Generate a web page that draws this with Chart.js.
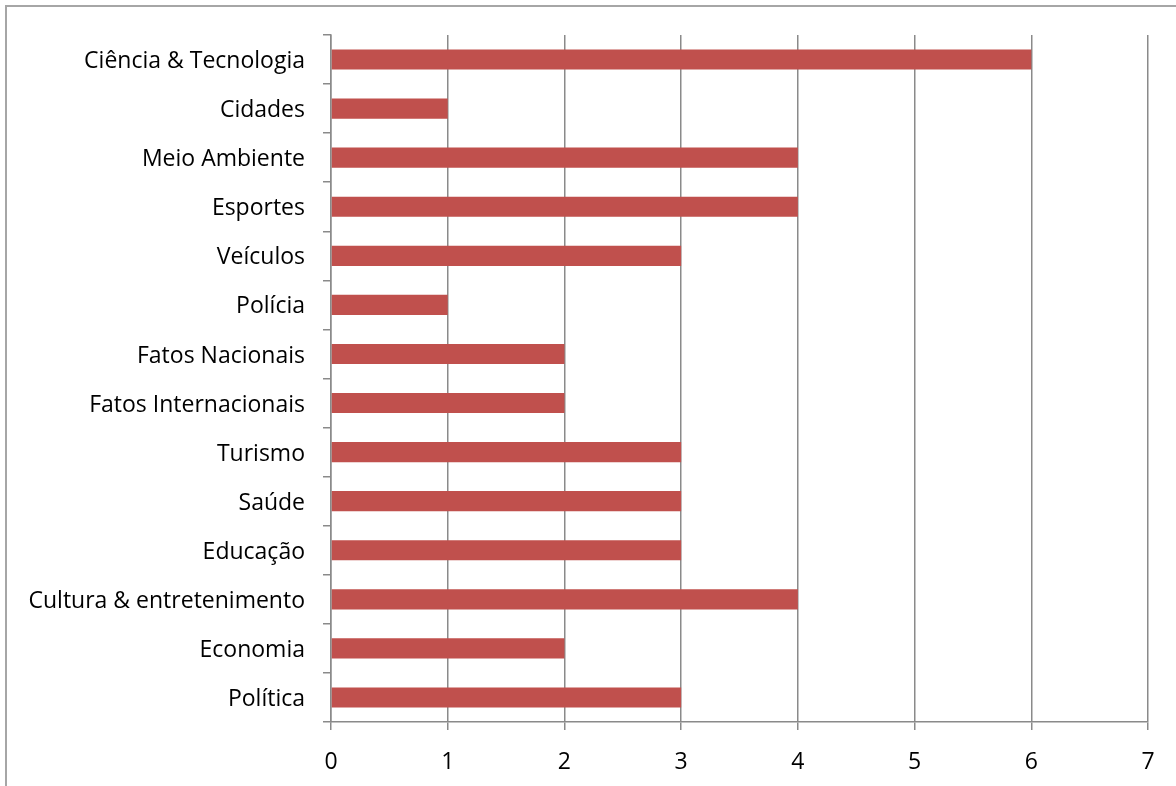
<!DOCTYPE html>
<html>
<head>
<meta charset="utf-8">
<script src="https://cdn.jsdelivr.net/npm/chart.js@4.4.1/dist/chart.umd.min.js"></script>
<style>
  html, body { margin: 0; padding: 0; background: #fff; }
  #wrap { width: 1176px; height: 786px; position: relative; }
</style>
</head>
<body>
<div id="wrap"><canvas id="chart" width="1176" height="786"></canvas></div>
<script>
// categories, top to bottom
const categories = [
  'Ciência & Tecnologia',
  'Cidades',
  'Meio Ambiente',
  'Esportes',
  'Veículos',
  'Polícia',
  'Fatos Nacionais',
  'Fatos Internacionais',
  'Turismo',
  'Saúde',
  'Educação',
  'Cultura & entretenimento',
  'Economia',
  'Política',
];
const counts = [6, 1, 4, 4, 3, 1, 2, 2, 3, 3, 3, 4, 2, 3];
const xTicks = [0, 1, 2, 3, 4, 5, 6, 7];

const GRID = '#8a8a8a';
const FONT = { family: '"Open Sans", Lato, sans-serif', size: 23 };

// outer frame: top and left edges only
const framePlugin = {
  id: 'frame',
  beforeDraw(chart) {
    const ctx = chart.ctx;
    ctx.save();
    ctx.strokeStyle = '#a6a6a6';
    ctx.lineWidth = 2;
    ctx.beginPath();
    ctx.moveTo(6, chart.height);
    ctx.lineTo(6, 6);
    ctx.lineTo(chart.width, 6);
    ctx.stroke();
    ctx.restore();
  },
};

new Chart(document.getElementById('chart'), {
  type: 'bar',
  data: {
    labels: categories,
    datasets: [{
      data: counts,
      backgroundColor: '#c0504d',
      borderWidth: 0,
      categoryPercentage: 1,
      barPercentage: 0.41,
    }],
  },
  options: {
    indexAxis: 'y',
    responsive: false,
    animation: false,
    layout: { padding: { top: 35, right: 28, left: 0, bottom: 0 } },
    plugins: { legend: { display: false }, tooltip: { enabled: false } },
    scales: {
      x: {
        min: 0,
        max: 7,
        afterBuildTicks(scale) { scale.ticks = xTicks.map(v => ({ value: v })); },
        afterFit(scale) { scale.height = 64; },
        grid: { color: GRID, lineWidth: 1.5, tickLength: 8 },
        border: { color: GRID, width: 1.5 },
        ticks: { color: '#000', font: FONT, padding: 19 },
      },
      y: {
        afterFit(scale) { scale.width = 331; },
        grid: { drawOnChartArea: false, color: GRID, lineWidth: 1.5, tickLength: 8 },
        border: { color: GRID, width: 1.5 },
        ticks: { color: '#000', font: FONT, padding: 18, labelOffset: 2 },
      },
    },
  },
  plugins: [framePlugin],
});
</script>
</body>
</html>
